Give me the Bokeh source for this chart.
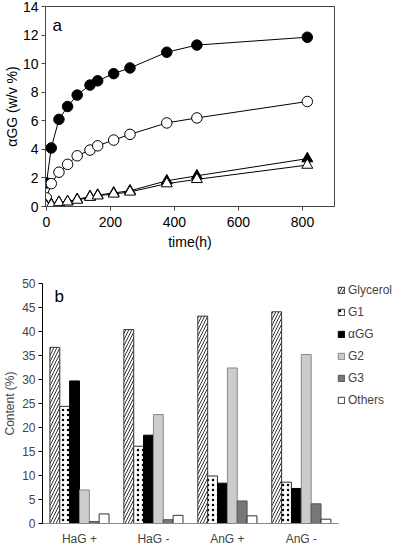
from bokeh.plotting import figure
from bokeh.models import Range1d, FixedTicker, Legend, LegendItem, Label, ColumnDataSource
from bokeh.layouts import column
from bokeh.embed import file_html
from bokeh.resources import INLINE

FONT = "Liberation Sans"

# ---- panel a data ----
time_h = [0, 15, 39, 66, 96, 136, 160, 210, 261, 376, 470, 815]
filled_circle = [1.65, 4.1, 6.1, 7.0, 7.8, 8.5, 8.8, 9.3, 9.7, 10.8, 11.3, 11.85]
open_circle = [0.6, 1.6, 2.4, 2.95, 3.55, 3.95, 4.25, 4.65, 5.05, 5.85, 6.2, 7.35]
filled_triangle = [0.05, 0.15, 0.3, 0.35, 0.5, 0.7, 0.8, 0.95, 1.1, 1.8, 2.15, 3.35]
open_triangle = [0.0, 0.1, 0.28, 0.33, 0.45, 0.65, 0.75, 0.88, 1.02, 1.6, 1.9, 2.9]
x_ticks_a = [0, 200, 400, 600, 800]
y_ticks_a = [0, 2, 4, 6, 8, 10, 12, 14]

# ---- panel b data ----
groups = ["HaG +", "HaG -", "AnG +", "AnG -"]
components = ["Glycerol", "G1", "αGG", "G2", "G3", "Others"]
glycerol = [36.7, 40.4, 43.2, 44.1]
g1 = [24.4, 16.1, 9.9, 8.6]
agg = [29.7, 18.4, 8.4, 7.3]
g2 = [7.0, 22.7, 32.4, 35.2]
g3 = [0.4, 0.8, 4.7, 4.1]
others = [2.0, 1.7, 1.6, 0.9]
y_ticks_b = [0, 5, 10, 15, 20, 25, 30, 35, 40, 45, 50]

# ================= panel a =================
p1 = figure(width=384, height=252, output_backend="svg", toolbar_location=None,
            x_range=Range1d(-3, 900), y_range=Range1d(0, 14),
            min_border_left=35, min_border_right=50, min_border_top=6, min_border_bottom=46)
p1.frame_align = False
p1.xgrid.visible = False
p1.ygrid.visible = False
p1.outline_line_color = "#444444"

for ax in (p1.xaxis[0], p1.yaxis[0]):
    ax.axis_line_color = "#444444"
    ax.major_tick_line_color = "#444444"
    ax.major_tick_in = 0
    ax.major_tick_out = 4
    ax.minor_tick_line_color = None
    ax.major_label_text_font = FONT
    ax.major_label_text_font_size = "14px"
    ax.major_label_text_color = "black"
    ax.axis_label_text_font = FONT
    ax.axis_label_text_font_size = "14px"
    ax.axis_label_text_font_style = "normal"
    ax.axis_label_text_color = "black"
p1.xaxis.ticker = FixedTicker(ticks=x_ticks_a)
p1.yaxis.ticker = FixedTicker(ticks=y_ticks_a)
p1.xaxis.axis_label = "time(h)"
p1.yaxis.axis_label = "αGG (w/v %)"
p1.yaxis.major_label_standoff = 3
p1.yaxis.axis_label_standoff = 0
p1.xaxis.major_label_standoff = 6
p1.xaxis.axis_label_standoff = 4

src = ColumnDataSource(dict(t=time_h, fc=filled_circle, oc=open_circle,
                            ft=filled_triangle, ot=open_triangle))
for col in ("fc", "oc", "ft", "ot"):
    p1.line("t", col, source=src, line_color="black", line_width=1)
p1.scatter("t", "fc", source=src, marker="circle", size=10.5, fill_color="black", line_color="black")
p1.scatter("t", "oc", source=src, marker="circle", size=10.5, fill_color="white", line_color="black")
p1.scatter("t", "ft", source=src, marker="triangle", size=11, fill_color="black", line_color="black")
p1.scatter("t", "ot", source=src, marker="triangle", size=11, fill_color="white", line_color="black")

p1.add_layout(Label(x=7, y=172, x_units="screen", y_units="screen", text="a",
                    text_font=FONT, text_font_size="17px", text_color="black"))

# ================= panel b =================
# numeric category axis: group i is centred at i + 0.5
centers = [i + 0.5 for i in range(len(groups))]
p2 = figure(width=392, height=296, output_backend="svg", toolbar_location=None,
            x_range=Range1d(0, 4.733), y_range=Range1d(0, 50),
            min_border_left=37, min_border_right=0, min_border_top=31, min_border_bottom=23)
p2.frame_align = False
p2.xgrid.visible = False
p2.ygrid.visible = False
p2.outline_line_color = None

p2.yaxis.ticker = FixedTicker(ticks=y_ticks_b)
p2.yaxis.axis_line_color = "black"
p2.yaxis.major_tick_line_color = "black"
p2.yaxis.major_tick_in = 0
p2.yaxis.major_tick_out = 4
p2.yaxis.minor_tick_line_color = None
p2.yaxis.major_label_text_font = FONT
p2.yaxis.major_label_text_font_size = "12px"
p2.yaxis.major_label_standoff = 3
p2.yaxis.axis_label = "Content (%)"
p2.yaxis.axis_label_text_font = FONT
p2.yaxis.axis_label_text_font_size = "12px"
p2.yaxis.axis_label_text_font_style = "normal"
p2.yaxis.axis_label_standoff = 2

p2.xaxis.ticker = FixedTicker(ticks=centers)
p2.xaxis.major_label_overrides = {c: g for c, g in zip(centers, groups)}
p2.xaxis.bounds = (0, 4)
p2.xaxis.axis_line_color = "#888888"
p2.xaxis.major_tick_line_color = None
p2.xaxis.major_tick_out = 0
p2.xaxis.major_tick_in = 0
p2.xaxis.minor_tick_line_color = None
p2.xaxis.major_label_text_font = FONT
p2.xaxis.major_label_text_font_size = "12px"
p2.xaxis.major_label_standoff = 8

w = 0.1333
offs = [-0.333, -0.2, -0.0667, 0.0667, 0.2, 0.333]
series = [glycerol, g1, agg, g2, g3, others]
styles = [
    dict(fill_color="white", line_color="#333333", hatch_pattern="/", hatch_color="#333333", hatch_scale=6, hatch_weight=1),
    dict(fill_color="white", line_color="#333333", hatch_pattern=".", hatch_color="black", hatch_scale=5, hatch_weight=1.5),
    dict(fill_color="black", line_color="black"),
    dict(fill_color="#cccccc", line_color="#888888"),
    dict(fill_color="#777777", line_color="#555555"),
    dict(fill_color="white", line_color="#333333"),
]
items = []
for name, off, vals, st in zip(components, offs, series, styles):
    xs = [c + off for c in centers]
    r = p2.vbar(x=xs, top=vals, width=w, line_width=1, **st)
    items.append(LegendItem(label=name, renderers=[r]))

legend = Legend(items=items, location="top_right",
                glyph_width=8, glyph_height=8, spacing=8,
                label_standoff=3, padding=0, margin=0,
                label_text_font=FONT, label_text_font_size="12px",
                background_fill_alpha=0, border_line_color=None)
p2.add_layout(legend)

p2.add_layout(Label(x=12, y=218, x_units="screen", y_units="screen", text="b",
                    text_font=FONT, text_font_size="17px", text_color="black"))

layout = column(p1, p2, spacing=0)

open("out.html", "w").write(file_html(layout, INLINE))
